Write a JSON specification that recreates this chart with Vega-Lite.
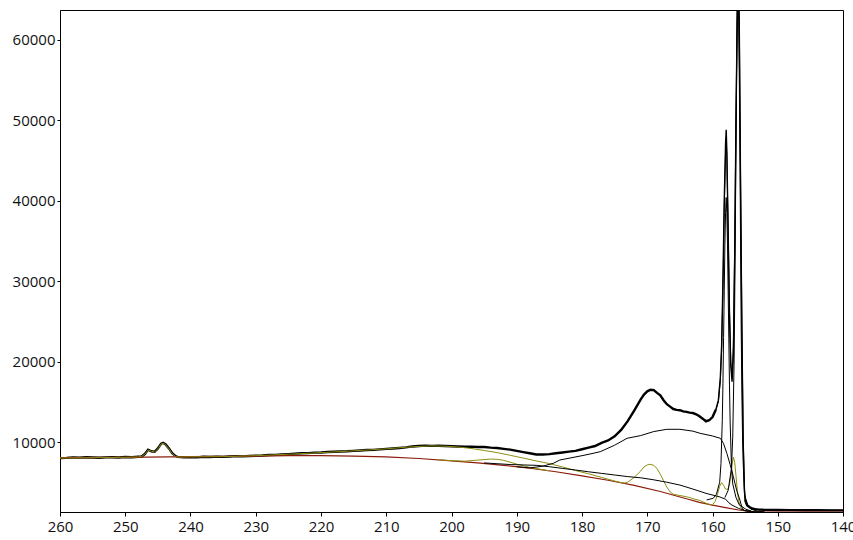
{
  "$schema": "https://vega.github.io/schema/vega-lite/v6.json",
  "width": 783,
  "height": 502,
  "autosize": {"type": "none"},
  "padding": {"left": 60, "top": 10, "right": 10, "bottom": 28},
  "background": "white",
  "config": {
    "view": {"stroke": "black", "strokeWidth": 1},
    "axis": {
      "grid": false,
      "title": null,
      "labelFont": "Open Sans",
      "labelFontSize": 15,
      "labelColor": "#111111",
      "tickColor": "#000000",
      "domainColor": "#000000",
      "labelFlush": false,
      "labelOverlap": false,
      "format": "d"
    }
  },
  "datasets": {
    "data": [
      {"E":260,"I":8000},{"E":259,"I":8030},{"E":258,"I":8080},{"E":257,"I":8060},{"E":256,"I":8100},{"E":255,"I":8070},{"E":254,"I":8040},{"E":253,"I":8090},{"E":252,"I":8110},{"E":251,"I":8080},{"E":250,"I":8130},{"E":249,"I":8100},{"E":248,"I":8170},{"E":247.5,"I":8200},{"E":247,"I":8500},{"E":246.5,"I":9050},{"E":246,"I":8850},{"E":245.5,"I":8780},{"E":245,"I":9200},{"E":244.5,"I":9800},{"E":244.2,"I":9900},{"E":243.8,"I":9700},{"E":243.3,"I":9200},{"E":242.8,"I":8600},{"E":242.3,"I":8250},{"E":242,"I":8150},{"E":241,"I":8100},{"E":240,"I":8120},{"E":239,"I":8090},{"E":238,"I":8160},{"E":237,"I":8130},{"E":236,"I":8180},{"E":235,"I":8150},{"E":234,"I":8200},{"E":233,"I":8240},{"E":232,"I":8210},{"E":231,"I":8260},{"E":230,"I":8300},{"E":229,"I":8320},{"E":228,"I":8380},{"E":227,"I":8400},{"E":226,"I":8450},{"E":225,"I":8500},{"E":224,"I":8560},{"E":223,"I":8600},{"E":222,"I":8620},{"E":221,"I":8680},{"E":220,"I":8700},{"E":219,"I":8750},{"E":218,"I":8780},{"E":217,"I":8820},{"E":216,"I":8850},{"E":215,"I":8900},{"E":214,"I":8950},{"E":213,"I":9000},{"E":212,"I":9020},{"E":211,"I":9080},{"E":210,"I":9150},{"E":209,"I":9200},{"E":208,"I":9260},{"E":207,"I":9330},{"E":206,"I":9450},{"E":205,"I":9500},{"E":204,"I":9550},{"E":203,"I":9520},{"E":202,"I":9530},{"E":201,"I":9500},{"E":200,"I":9470},{"E":199,"I":9450},{"E":198,"I":9420},{"E":197,"I":9420},{"E":196,"I":9380},{"E":195,"I":9380},{"E":194,"I":9300},{"E":193,"I":9250},{"E":192,"I":9150},{"E":191,"I":9050},{"E":190,"I":8900},{"E":189,"I":8750},{"E":188,"I":8600},{"E":187,"I":8450},{"E":186,"I":8450},{"E":185,"I":8500},{"E":184,"I":8600},{"E":183,"I":8700},{"E":182,"I":8800},{"E":181,"I":8900},{"E":180,"I":9100},{"E":179,"I":9300},{"E":178,"I":9500},{"E":177,"I":9900},{"E":176,"I":10200},{"E":175,"I":10700},{"E":174,"I":11500},{"E":173,"I":12600},{"E":172,"I":13900},{"E":171,"I":15300},{"E":170.5,"I":15900},{"E":170,"I":16300},{"E":169.5,"I":16500},{"E":169,"I":16450},{"E":168.5,"I":16100},{"E":168,"I":15800},{"E":167.5,"I":15200},{"E":167,"I":14700},{"E":166.5,"I":14400},{"E":166,"I":14100},{"E":165.5,"I":14000},{"E":165,"I":13950},{"E":164.5,"I":13800},{"E":164,"I":13750},{"E":163.5,"I":13650},{"E":163,"I":13600},{"E":162.5,"I":13450},{"E":162,"I":13200},{"E":161.5,"I":12900},{"E":161,"I":12550},{"E":160.5,"I":12700},{"E":160,"I":13100},{"E":159.5,"I":14000},{"E":159.1,"I":15200},{"E":158.8,"I":18000},{"E":158.6,"I":22000},{"E":158.4,"I":30000},{"E":158.2,"I":40000},{"E":158,"I":47000},{"E":157.9,"I":48800},{"E":157.8,"I":46000},{"E":157.6,"I":36000},{"E":157.4,"I":26000},{"E":157.2,"I":19500},{"E":157,"I":17500},{"E":156.8,"I":21000},{"E":156.6,"I":33000},{"E":156.4,"I":50000},{"E":156.2,"I":64000},{"E":156.1,"I":70000},{"E":155.9,"I":62000},{"E":155.7,"I":42000},{"E":155.5,"I":24000},{"E":155.3,"I":10000},{"E":155.1,"I":4000},{"E":155,"I":2800},{"E":154.7,"I":2150},{"E":154.3,"I":1900},{"E":154,"I":1750},{"E":153.5,"I":1650},{"E":153,"I":1600},{"E":152,"I":1570},{"E":150,"I":1550},{"E":148,"I":1530},{"E":146,"I":1520},{"E":144,"I":1510},{"E":142,"I":1500},{"E":140,"I":1500}
    ],
    "envelope": [
      {"E":162,"I":13100},{"E":161,"I":12700},{"E":160.5,"I":12750},{"E":160,"I":13000},{"E":159.5,"I":13900},{"E":159.1,"I":15000},{"E":158.8,"I":17600},{"E":158.6,"I":21500},{"E":158.4,"I":29000},{"E":158.2,"I":39000},{"E":158,"I":46000},{"E":157.9,"I":47800},{"E":157.8,"I":45500},{"E":157.6,"I":36500},{"E":157.4,"I":26500},{"E":157.2,"I":20000},{"E":157,"I":18000},{"E":156.8,"I":22000},{"E":156.6,"I":34000},{"E":156.4,"I":50500},{"E":156.2,"I":64500},{"E":156.1,"I":70000},{"E":155.9,"I":63000},{"E":155.7,"I":43000},{"E":155.5,"I":25000},{"E":155.3,"I":10500},{"E":155.1,"I":4200},{"E":155,"I":2900},{"E":154.7,"I":2200},{"E":154.3,"I":1950},{"E":154,"I":1800},{"E":153,"I":1620},{"E":150,"I":1560},{"E":140,"I":1510}
    ],
    "bg": [
      {"E":260,"I":8050},{"E":250,"I":8100},{"E":240,"I":8180},{"E":230,"I":8250},{"E":225,"I":8300},{"E":220,"I":8300},{"E":215,"I":8250},{"E":210,"I":8150},{"E":205,"I":7950},{"E":200,"I":7650},{"E":196,"I":7400},{"E":192,"I":7100},{"E":188,"I":6750},{"E":184,"I":6300},{"E":180,"I":5800},{"E":176,"I":5250},{"E":172,"I":4600},{"E":168,"I":3850},{"E":164,"I":2950},{"E":162,"I":2500},{"E":160,"I":2150},{"E":158,"I":1850},{"E":156,"I":1550},{"E":154,"I":1350},{"E":152,"I":1300},{"E":140,"I":1290}
    ],
    "olive1": [
      {"E":260,"I":8000},{"E":250,"I":8100},{"E":248,"I":8150},{"E":247.5,"I":8200},{"E":247,"I":8480},{"E":246.5,"I":9000},{"E":246,"I":8850},{"E":245.5,"I":8760},{"E":245,"I":9150},{"E":244.5,"I":9750},{"E":244.2,"I":9850},{"E":243.8,"I":9650},{"E":243.3,"I":9150},{"E":242.8,"I":8550},{"E":242.3,"I":8200},{"E":242,"I":8120},{"E":240,"I":8150},{"E":235,"I":8180},{"E":230,"I":8300},{"E":225,"I":8480},{"E":220,"I":8680},{"E":215,"I":8900},{"E":210,"I":9150},{"E":207,"I":9350},{"E":205,"I":9450},{"E":203,"I":9520},{"E":201,"I":9480},{"E":199,"I":9380},{"E":197,"I":9200},{"E":195,"I":8950},{"E":193,"I":8680},{"E":191,"I":8350},{"E":189,"I":8000},{"E":187,"I":7650},{"E":185,"I":7320},{"E":183,"I":6900},{"E":181,"I":6450},{"E":179,"I":6050},{"E":177,"I":5600},{"E":175,"I":5150},{"E":174,"I":4950},{"E":173.5,"I":4900},{"E":173,"I":5000},{"E":172,"I":5600},{"E":171,"I":6400},{"E":170.5,"I":6900},{"E":170,"I":7150},{"E":169.6,"I":7230},{"E":169,"I":7100},{"E":168.5,"I":6700},{"E":168,"I":6000},{"E":167.5,"I":5200},{"E":167,"I":4400},{"E":166.5,"I":3800},{"E":166,"I":3500},{"E":165,"I":3350},{"E":164,"I":3200},{"E":163.5,"I":3100},{"E":163,"I":2950},{"E":162,"I":2750},{"E":161,"I":2400},{"E":160.4,"I":2200},{"E":160,"I":2200},{"E":159.6,"I":2600},{"E":159.2,"I":3600},{"E":158.9,"I":4500},{"E":158.6,"I":4950},{"E":158.3,"I":4600},{"E":158,"I":4150},{"E":157.7,"I":4100},{"E":157.4,"I":4600},{"E":157.2,"I":5800},{"E":157,"I":7200},{"E":156.8,"I":8100},{"E":156.6,"I":7500},{"E":156.4,"I":5800},{"E":156.2,"I":4000},{"E":156,"I":2700},{"E":155.7,"I":1900},{"E":155.4,"I":1600},{"E":155,"I":1450},{"E":154,"I":1350}
    ],
    "olive2": [
      {"E":202,"I":7800},{"E":200,"I":7680},{"E":198,"I":7620},{"E":196,"I":7750},{"E":194,"I":7880},{"E":193,"I":7850},{"E":192,"I":7720},{"E":190,"I":7250},{"E":188,"I":6850},{"E":186,"I":6550},{"E":185,"I":6420}
    ],
    "loss": [
      {"E":190,"I":6930},{"E":188,"I":6780},{"E":186,"I":7000},{"E":184.4,"I":7350},{"E":183.4,"I":7760},{"E":180,"I":8300},{"E":178.3,"I":8590},{"E":177.2,"I":8800},{"E":175,"I":9600},{"E":173.1,"I":10460},{"E":171,"I":10800},{"E":169,"I":11300},{"E":167,"I":11580},{"E":165,"I":11580},{"E":163,"I":11350},{"E":161.9,"I":11080},{"E":160,"I":10750},{"E":158.8,"I":10460},{"E":158.3,"I":9800},{"E":157.8,"I":8590},{"E":157.3,"I":7200},{"E":156.8,"I":5680},{"E":156.3,"I":4000},{"E":155.8,"I":2790},{"E":155.5,"I":1900},{"E":155.2,"I":1500},{"E":154.5,"I":1380},{"E":154,"I":1350}
    ],
    "tail": [
      {"E":195,"I":7400},{"E":193,"I":7300},{"E":191,"I":7200},{"E":189,"I":7150},{"E":187,"I":7100},{"E":185,"I":6930},{"E":183,"I":6720},{"E":181,"I":6520},{"E":179,"I":6300},{"E":177,"I":6100},{"E":175,"I":5900},{"E":173,"I":5700},{"E":171,"I":5550},{"E":169,"I":5300},{"E":167,"I":5000},{"E":165,"I":4650},{"E":163,"I":4150},{"E":161,"I":3620},{"E":159,"I":3200},{"E":158,"I":2900},{"E":157.5,"I":2450},{"E":157,"I":2150},{"E":156.5,"I":1950},{"E":156,"I":1750},{"E":155.5,"I":1600},{"E":155,"I":1480},{"E":154,"I":1360},{"E":153,"I":1310}
    ],
    "p1": [
      {"E":160.9,"I":2800},{"E":159.9,"I":3000},{"E":159.4,"I":3500},{"E":158.9,"I":5000},{"E":158.7,"I":7300},{"E":158.5,"I":12700},{"E":158.4,"I":17300},{"E":158.3,"I":23000},{"E":158.2,"I":28800},{"E":158.1,"I":34600},{"E":158,"I":38500},{"E":157.9,"I":40400},{"E":157.8,"I":38400},{"E":157.7,"I":34500},{"E":157.6,"I":28700},{"E":157.5,"I":22900},{"E":157.4,"I":17200},{"E":157.3,"I":12600},{"E":157.1,"I":7100},{"E":156.9,"I":4800},{"E":156.4,"I":3100},{"E":155.9,"I":2200},{"E":154.9,"I":1650},{"E":154,"I":1400}
    ],
    "p2": [
      {"E":158.1,"I":3100},{"E":157.6,"I":4000},{"E":157.1,"I":6700},{"E":156.9,"I":10600},{"E":156.7,"I":19500},{"E":156.6,"I":27200},{"E":156.5,"I":36800},{"E":156.4,"I":46400},{"E":156.3,"I":56000},{"E":156.2,"I":62400},{"E":156.1,"I":65600},{"E":156,"I":62400},{"E":155.9,"I":56000},{"E":155.8,"I":46400},{"E":155.7,"I":35000},{"E":155.6,"I":24000},{"E":155.5,"I":16000},{"E":155.4,"I":11000},{"E":155.3,"I":7500},{"E":155.1,"I":3500},{"E":154.6,"I":2100},{"E":154.1,"I":1650},{"E":153.1,"I":1400},{"E":152,"I":1310}
    ]
  },
  "encoding": {
    "x": {
      "field": "E",
      "type": "quantitative",
      "scale": {"domain": [140, 260], "reverse": true, "nice": false, "zero": false},
      "axis": {"values": [260, 250, 240, 230, 220, 210, 200, 190, 180, 170, 160, 150, 140], "tickSize": 4, "labelPadding": 3}
    },
    "y": {
      "field": "I",
      "type": "quantitative",
      "scale": {"domain": [1300, 63700], "nice": false, "zero": false},
      "axis": {"values": [10000, 20000, 30000, 40000, 50000, 60000], "tickSize": 3, "labelPadding": 2}
    }
  },
  "layer": [
    {"data": {"name": "data"}, "transform": [{"filter": "datum.E >= 159.5"}], "mark": {"type": "line", "color": "#000000", "strokeWidth": 2.4, "clip": true}},
    {"data": {"name": "data"}, "transform": [{"filter": "datum.E <= 155"}], "mark": {"type": "line", "color": "#000000", "strokeWidth": 2.4, "clip": true}},
    {"data": {"name": "data"}, "transform": [{"filter": "datum.E <= 159.5 && datum.E >= 155"}], "mark": {"type": "line", "color": "#000000", "strokeWidth": 1.4, "clip": true}},
    {"data": {"name": "bg"}, "mark": {"type": "line", "color": "#8b1c0c", "strokeWidth": 1.2, "clip": true}},
    {"data": {"name": "olive2"}, "mark": {"type": "line", "color": "#8e8e12", "strokeWidth": 1, "clip": true}},
    {"data": {"name": "olive1"}, "mark": {"type": "line", "color": "#8e8e12", "strokeWidth": 1, "clip": true}},
    {"data": {"name": "tail"}, "mark": {"type": "line", "color": "#000000", "strokeWidth": 1, "clip": true}},
    {"data": {"name": "loss"}, "mark": {"type": "line", "color": "#000000", "strokeWidth": 1, "clip": true}},
    {"data": {"name": "p1"}, "mark": {"type": "line", "color": "#000000", "strokeWidth": 1, "clip": true}},
    {"data": {"name": "p2"}, "mark": {"type": "line", "color": "#000000", "strokeWidth": 1, "clip": true}},
    {"data": {"name": "envelope"}, "mark": {"type": "line", "color": "#000000", "strokeWidth": 1, "clip": true}}
  ]
}
